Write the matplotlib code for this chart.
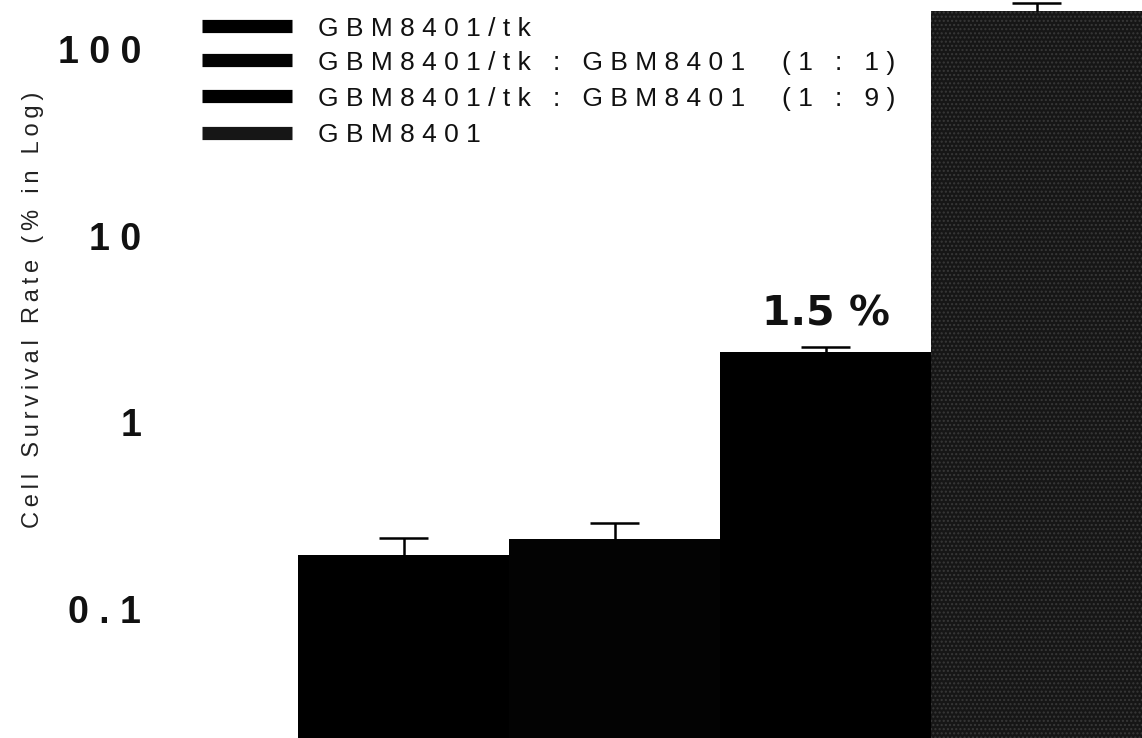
import numpy as np
import matplotlib.pyplot as plt
from matplotlib.lines import Line2D
from matplotlib.transforms import ScaledTranslation

plt.rcParams['font.family'] = ['Liberation Sans', 'DejaVu Sans']

# survival of each culture, % (log scale), with upper SD
groups = ["GBM8401/tk",
          "GBM8401/tk : GBM8401  (1 : 1)",
          "GBM8401/tk : GBM8401  (1 : 9)",
          "GBM8401"]
survival = [0.121, 0.149, 1.5, 100]
err_up = [0.030, 0.033, 0.10, 11]
bar_colors = ["#000000", "#030303", "#000000", "#161616"]
y_ticks = [0.1, 1, 10, 100]
y_tick_labels = ["0.1", "1", "10", "100"]


def spaced(s, gap=" "):
    # wide letter tracking like the old typesetting
    return gap.join(s)


W, H = 1142, 738
fig = plt.figure(figsize=(W / 100, H / 100), dpi=100)
ax = fig.add_axes([298 / W, 0, 844 / W, 1])
ax.set_yscale('log')

x = np.arange(len(survival))
bars = ax.bar(x, survival, width=1.0, bottom=1e-3, color=bar_colors,
              linewidth=0)
# grainy fill on the parental line
bars[3].set_hatch('....')
bars[3].set_edgecolor('#383838')
bars[3].set_linewidth(0)

# upper whiskers only
tops = np.array(survival) + np.array(err_up)
ax.vlines(x, survival, tops, color='black', linewidth=1.8)
ax.hlines(tops, x - 0.118, x + 0.118, color='black', linewidth=1.8)

ax.set_xlim(-0.5, 3.5)
ax.set_ylim(0.01285, 115.2)
ax.set_xticks([])
for sp in ax.spines.values():
    sp.set_visible(False)

ax.set_yticks(y_ticks)
ax.set_yticklabels([spaced(t) for t in y_tick_labels],
                   fontsize=27, fontweight='bold', color='#111111')
ax.yaxis.set_minor_locator(plt.NullLocator())
ax.tick_params(axis='y', length=0, pad=113)
shift = ScaledTranslation(0, -0.375, fig.dpi_scale_trans)
for lab in ax.get_yticklabels():
    lab.set_transform(lab.get_transform() + shift)

# value label over the 1:9 mixture
ax.annotate(f"{survival[2]} %", xy=(x[2], survival[2]),
            xytext=(0, 19), textcoords='offset points',
            ha='center', va='baseline', fontsize=29.5,
            fontweight='bold', family='DejaVu Sans', color='#111111')

fig.text(33 / W, 1 - 310 / H,
         spaced("Cell Survival Rate (% in Log)", "\u2009"),
         rotation=90, ha='center', va='center', fontsize=17,
         color='#222222')

# legend drawn in figure pixels
rows = [25.5, 60, 96, 132.5]
for lab, col, yy in zip(groups, bar_colors, rows):
    fig.add_artist(Line2D([202 / W, 292 / W], [1 - yy / H, 1 - yy / H],
                          transform=fig.transFigure, color=col,
                          linewidth=9.5, solid_capstyle='butt'))
    fig.text(318 / W, 1 - (yy + 10) / H, spaced(lab), fontsize=19,
             ha='left', va='baseline', color='#111111')

fig.savefig('out.png', dpi=100)
